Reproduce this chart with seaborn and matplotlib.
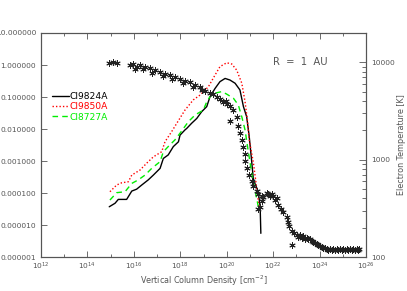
import matplotlib
matplotlib.use("Agg")
import matplotlib.pyplot as plt
import matplotlib.ticker as mticker
import numpy as np
import pandas as pd
import seaborn as sns

# ================================
# Values (log10 units)
# ================================

# CI9824A  (log10 column density, log10 line value)
ci9824_logn = [14.94, 15.19, 15.33, 15.69, 15.91, 16.12, 16.34, 16.62, 16.84, 17.13,
               17.27, 17.48, 17.70, 17.92, 17.99, 18.20, 18.28, 18.49, 18.71, 18.92,
               19.14, 19.28, 19.50, 19.71, 19.93, 20.14, 20.36, 20.57, 20.72, 20.86,
               20.97, 21.07, 21.15, 21.36, 21.44, 21.47]
ci9824_logv = [-4.43, -4.32, -4.20, -4.20, -3.94, -3.88, -3.75, -3.59, -3.44, -3.23,
               -2.92, -2.81, -2.55, -2.40, -2.19, -2.03, -1.98, -1.82, -1.67, -1.46,
               -1.30, -0.99, -0.73, -0.52, -0.42, -0.47, -0.57, -0.78, -1.30, -1.62,
               -2.24, -2.97, -3.59, -3.96, -4.43, -5.26]

# CI9850A
ci9850_logn = [14.97, 15.26, 15.48, 15.76, 15.91, 16.27, 16.55, 16.84, 17.20, 17.34,
               17.63, 17.85, 18.20, 18.56, 18.85, 19.21, 19.50, 19.71, 20.00, 20.22,
               20.43, 20.65, 20.79, 20.89, 20.97, 21.15, 21.32, 21.41]
ci9850_logv = [-3.96, -3.75, -3.68, -3.65, -3.44, -3.28, -3.07, -2.87, -2.71, -2.40,
               -2.08, -1.82, -1.41, -1.09, -0.94, -0.68, -0.31, -0.05, 0.07, 0.03,
               -0.16, -0.57, -1.15, -1.72, -2.34, -3.06, -4.00, -4.53]

# CI8727A
ci8727_logn = [14.97, 15.26, 15.62, 15.91, 16.19, 16.48, 16.77, 17.13, 17.27, 17.48,
               17.77, 17.99, 18.35, 18.64, 18.99, 19.14, 19.28, 19.50, 19.79, 20.00,
               20.29, 20.50, 20.65, 20.79, 20.92, 21.09, 21.26, 21.39]
ci8727_logv = [-4.22, -3.99, -3.96, -3.70, -3.59, -3.44, -3.23, -3.02, -2.71, -2.55,
               -2.34, -2.13, -1.77, -1.56, -1.41, -1.15, -0.99, -0.88, -0.83, -0.91,
               -1.04, -1.25, -1.62, -2.03, -2.66, -3.44, -4.06, -4.53]

# electron temperature (asterisks, right axis)
temp_logn = [14.94, 15.10, 15.26, 15.83, 15.98, 16.12, 16.27, 16.48, 16.70, 16.91,
             17.13, 17.34, 17.56, 17.77, 17.99, 18.20, 18.42, 18.64, 18.85, 19.07,
             19.28, 19.57, 19.71, 19.85, 20.00, 20.14, 20.29, 20.43, 20.14, 20.50,
             20.57, 20.65, 20.72, 20.79, 20.79, 20.86, 20.96, 21.08, 21.15, 21.30,
             21.36, 21.51, 21.58, 21.72, 21.79, 21.94, 22.01, 22.16, 21.51, 21.44,
             21.36, 21.87, 22.08, 22.22, 22.34, 22.44, 22.59, 22.66, 22.69, 22.80,
             22.90, 23.02, 23.16, 23.30, 23.45, 23.59, 23.73, 23.88, 24.02, 24.16,
             24.31, 24.45, 24.59, 24.74, 24.88, 25.02, 25.17, 25.31, 25.46, 25.60,
             25.71, 22.83,
             # second pass over the dense parts of the band
             16.05, 16.40, 16.80, 17.25, 17.65, 18.10, 18.55, 18.95, 19.40, 19.95,
             23.09, 23.23, 23.38, 23.52, 23.66, 23.80, 23.95, 24.09, 24.23, 24.38,
             24.52, 24.66, 24.81, 24.95, 25.10, 25.24, 25.38, 25.53, 25.66]
temp_logt = [3.99, 4.00, 3.99, 3.97, 3.98, 3.95, 3.97, 3.95, 3.94, 3.92,
             3.90, 3.88, 3.87, 3.85, 3.83, 3.81, 3.80, 3.77, 3.75, 3.71,
             3.68, 3.64, 3.62, 3.59, 3.57, 3.55, 3.51, 3.44, 3.40, 3.35,
             3.27, 3.20, 3.13, 3.06, 2.99, 2.91, 2.84, 2.78, 2.73, 2.68,
             2.65, 2.63, 2.62, 2.66, 2.65, 2.65, 2.63, 2.61, 2.58, 2.51,
             2.49, 2.63, 2.59, 2.53, 2.49, 2.46, 2.41, 2.36, 2.32, 2.27,
             2.25, 2.23, 2.23, 2.22, 2.20, 2.18, 2.15, 2.13, 2.11, 2.09,
             2.08, 2.08, 2.08, 2.08, 2.08, 2.08, 2.08, 2.08, 2.08, 2.08,
             2.08, 2.12,
             3.93, 3.93, 3.89, 3.86, 3.83, 3.79, 3.75, 3.72, 3.67, 3.60,
             2.21, 2.20, 2.19, 2.18, 2.16, 2.14, 2.12, 2.10, 2.09, 2.07,
             2.07, 2.07, 2.07, 2.07, 2.07, 2.07, 2.07, 2.07, 2.07]

x_ticks = [12, 14, 16, 18, 20, 22, 24, 26]

# ================================
# Plot
# ================================

sns.set_style("ticks")
plt.rcParams["font.family"] = ["DejaVu Sans"]
grey = "#555555"

fig = plt.figure(figsize=(4.07, 2.91), dpi=100)
ax = fig.add_axes([0.1007, 0.1168, 0.7986, 0.7698])
ax.set_xscale("log")
ax.set_yscale("log")

lines = [
    (ci9824_logn, ci9824_logv, "CI9824A", "black", "-"),
    (ci9850_logn, ci9850_logv, "CI9850A", "red", (0, (1, 1.5))),
    (ci8727_logn, ci8727_logv, "CI8727A", "#00ee00", (0, (4, 3))),
]
for logn, logv, name, col, ls in lines:
    df = pd.DataFrame({"n": 10.0 ** np.array(logn), "v": 10.0 ** np.array(logv)})
    sns.lineplot(data=df, x="n", y="v", ax=ax, color=col, lw=1.0, linestyle=ls,
                 sort=False, estimator=None, label=name)

ax.set_ylim(1e-6, 10)
ax.set_xlabel("Vertical Column Density [cm$^{-2}$]", fontsize=5.8, color=grey, labelpad=1)
ax.set_ylabel("")

leg = ax.legend(loc="upper left", bbox_to_anchor=(0.034, 0.735), frameon=False,
                fontsize=6.6, handlelength=1.8, handletextpad=0.15, labelspacing=0.12,
                borderpad=0, borderaxespad=0, labelcolor="linecolor")

ax.text(0.714, 0.87, "R  =  1  AU", transform=ax.transAxes, fontsize=7.2, color=grey,
        va="center", ha="left")

ax2 = ax.twinx()
ax2.set_yscale("log")
tdf = pd.DataFrame({"n": 10.0 ** np.array(temp_logn), "t": 10.0 ** np.array(temp_logt)})
sns.scatterplot(data=tdf, x="n", y="t", ax=ax2, marker=(6, 2, 0), color="#222222",
                s=16, linewidth=0.7, legend=False)
ax2.set_ylim(100, 2e4)
ax2.yaxis.set_major_locator(mticker.FixedLocator([100, 1000, 10000]))
ax2.yaxis.set_major_formatter(mticker.FuncFormatter(lambda v, p: f"{v:.0f}"))
ax2.yaxis.set_minor_locator(mticker.LogLocator(base=10, subs=np.arange(2, 10)))
ax2.yaxis.set_minor_formatter(mticker.NullFormatter())
ax2.tick_params(which="both", direction="in", colors=grey, labelsize=5.4, width=0.6)
ax2.tick_params(which="major", length=5)
ax2.tick_params(which="minor", length=3)
ax2.set_xlabel("")
ax2.set_ylabel("Electron Temperature [K]", fontsize=5.8, color=grey, labelpad=2)

# x axis ticks (set after the twin so nothing resets them)
ax.set_xlim(1e12, 1e26)
ax.xaxis.set_major_locator(mticker.FixedLocator([10.0 ** k for k in x_ticks]))
ax.xaxis.set_major_formatter(mticker.FixedFormatter([f"$10^{{{k}}}$" for k in x_ticks]))
ax.xaxis.set_minor_locator(mticker.FixedLocator([10.0 ** k for k in range(13, 26, 2)]))
ax.xaxis.set_minor_formatter(mticker.NullFormatter())
ax.yaxis.set_major_locator(mticker.FixedLocator([10.0 ** k for k in range(-6, 2)]))
ax.yaxis.set_major_formatter(mticker.FuncFormatter(lambda v, p: f"{v:.6f}"))
ax.yaxis.set_minor_locator(mticker.NullLocator())
ax.tick_params(which="both", direction="in", top=True, colors=grey, labelsize=5.4,
               width=0.6)
ax.tick_params(which="major", length=4)
ax.tick_params(which="minor", length=2.5)
ax.tick_params(axis="x", pad=3)

for a in (ax, ax2):
    for sp in a.spines.values():
        sp.set_color(grey)
        sp.set_linewidth(0.8)

fig.savefig("out.png", dpi=100)
